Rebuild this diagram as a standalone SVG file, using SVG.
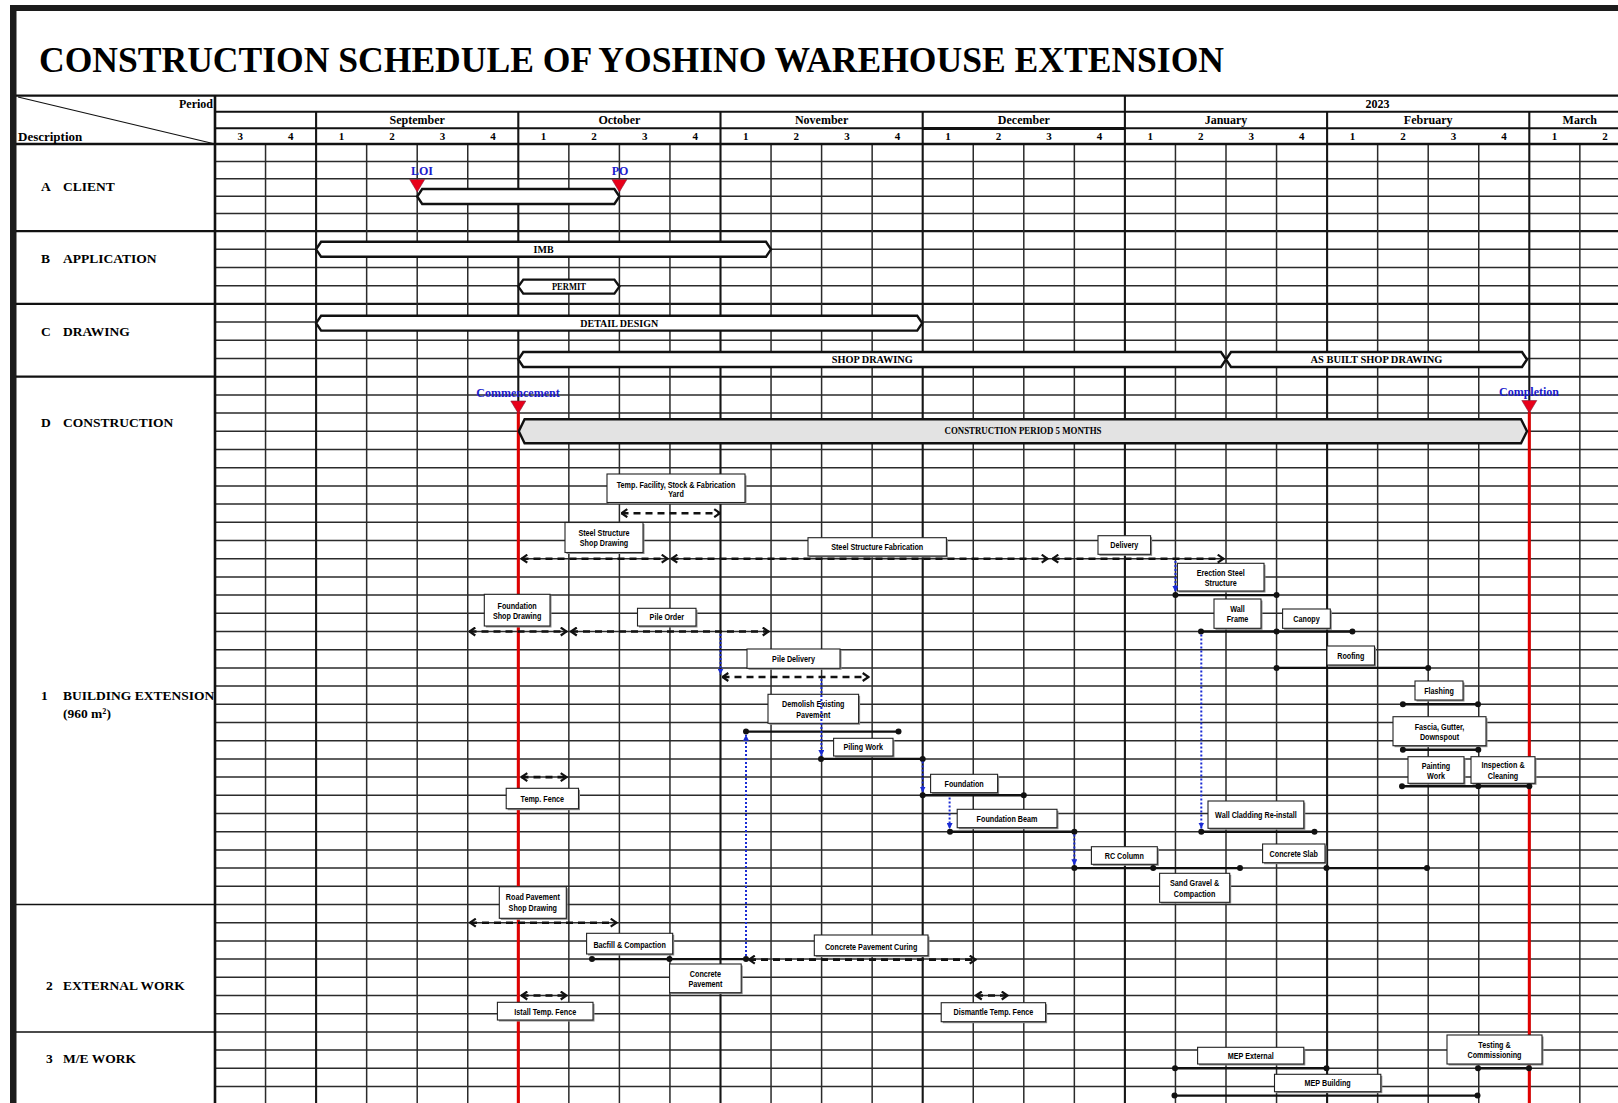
<svg xmlns="http://www.w3.org/2000/svg" width="1618" height="1103" viewBox="0 0 1618 1103">
<style>
.grid{stroke:#2b2b2b;stroke-width:1.5;fill:none}
.gridm{stroke:#161616;stroke-width:2.1;fill:none}
.frm{stroke:#111;fill:none}
.hdr{font-family:"Liberation Serif","Times New Roman",serif;font-weight:bold;fill:#000}
.c{text-anchor:middle}
.mo{font-size:12px}
.wk{font-size:11px}
.sec{font-size:13.5px}
.bar{fill:#fff;stroke:#111;stroke-width:2.4}
.barg{fill:#e3e3e3;stroke:#111;stroke-width:2.4}
.bt{font-family:"Liberation Serif","Times New Roman",serif;font-weight:bold;font-size:10px;text-anchor:middle;fill:#000}
.sh{fill:#8c8c8c}
.box{fill:#fff;stroke:#222;stroke-width:1.1}
.lb{font-family:"Liberation Sans",Arial,sans-serif;font-weight:bold;font-size:8.8px;text-anchor:middle;fill:#000}
.dash{stroke:#111;stroke-width:2.6;stroke-dasharray:7 5;fill:none;marker-start:url(#chev);marker-end:url(#chev)}
.sol{stroke:#111;stroke-width:2.4;fill:none}
.dot{fill:#111}
.blu{stroke:#1a2bd4;stroke-width:2;stroke-dasharray:2 2;fill:none;marker-end:url(#barr)}
.red{stroke:#e00000;stroke-width:3}
.mk{fill:#e8001a;stroke:#802040;stroke-width:0.6}
.bluet{font-family:"Liberation Serif","Times New Roman",serif;font-weight:bold;font-size:12px;fill:#1a1acc;text-anchor:middle}
</style>
<defs>
<marker id="chev" markerUnits="userSpaceOnUse" viewBox="0 0 8 10" refX="7" refY="5" markerWidth="8" markerHeight="10" orient="auto-start-reverse">
<path d="M1.2,1 L7,5 L1.2,9" fill="none" stroke="#111" stroke-width="2.2"/>
</marker>
<marker id="barr" markerUnits="userSpaceOnUse" viewBox="0 0 6 6" refX="6" refY="3" markerWidth="6" markerHeight="6" orient="auto">
<path d="M0,0 L6,3 L0,6 Z" fill="#1a2bd4"/>
</marker>
</defs>
<rect width="1618" height="1103" fill="#fff"/>

<!-- frame -->
<rect x="10" y="5" width="1608" height="6" fill="#1c1c1c"/>
<rect x="10" y="5" width="6.5" height="1098" fill="#1c1c1c"/>

<text class="hdr" x="39" y="72" font-size="35.5" textLength="1185" lengthAdjust="spacingAndGlyphs">CONSTRUCTION SCHEDULE OF YOSHINO WAREHOUSE EXTENSION</text>

<!-- grid -->
<g id="grid">
<path class="grid" d="M215 161.4H1618M215 178.8H1618M215 196.2H1618M215 213.6H1618M215 249.3H1618M215 267.5H1618M215 285.7H1618M215 322.1H1618M215 340.3H1618M215 358.5H1618M215 394.9H1618M215 413.1H1618M215 431.3H1618M215 449.5H1618M215 467.7H1618M215 485.9H1618M215 504.1H1618M215 522.3H1618M215 540.5H1618M215 558.7H1618M215 576.9H1618M215 595.1H1618M215 613.3H1618M215 631.5H1618M215 649.7H1618M215 667.9H1618M215 686.1H1618M215 704.3H1618M215 722.5H1618M215 740.7H1618M215 758.9H1618M215 777.1H1618M215 795.3H1618M215 813.5H1618M215 831.7H1618M215 849.9H1618M215 868.1H1618M215 886.3H1618M215 904.5H1618M215 922.7H1618M215 940.9H1618M215 959.1H1618M215 977.3H1618M215 995.5H1618M215 1013.7H1618M215 1031.9H1618M215 1050.1H1618M215 1068.3H1618M215 1086.5H1618"/>
<path class="gridm" d="M215 231.1H1618M215 303.9H1618M215 376.7H1618"/>
<path class="grid" d="M265.55 144V1103M366.65 144V1103M417.2 144V1103M467.75 144V1103M568.85 144V1103M619.4 144V1103M669.95 144V1103M771.05 144V1103M821.6 144V1103M872.15 144V1103M973.25 144V1103M1023.8 144V1103M1074.35 144V1103M1175.45 144V1103M1226 144V1103M1276.55 144V1103M1377.65 144V1103M1428.2 144V1103M1478.75 144V1103M1579.85 144V1103"/>
<path class="gridm" d="M316.1 111.7V1103M518.3 111.7V1103M720.5 111.7V1103M922.7 111.7V1103M1124.9 95.7V1103M1327.1 111.7V1103M1529.3 111.7V1103"/>
</g>

<!-- header -->
<g id="header">
<path class="frm" stroke-width="2.2" d="M16 95.7H1618"/>
<path class="frm" stroke-width="2" d="M215 111.7H1618M215 128.3H1618"/>
<path class="frm" stroke-width="3" d="M922.7 128.6H1124.9"/>
<path class="frm" stroke-width="2.6" d="M16 144H1618"/>
<path class="frm" stroke-width="2.6" d="M215 95.7V1103"/>
<path class="frm" stroke-width="1.2" d="M18 97L213 143.5"/>
<path class="frm" stroke-width="2.2" d="M16 231.1H215M16 303.9H215M16 376.7H215"/>
<path class="frm" stroke-width="1.5" d="M16 904.5H215M16 1031.9H215"/>
<text class="hdr" x="213" y="108.3" font-size="12" text-anchor="end">Period</text>
<text class="hdr" x="18" y="140.5" font-size="13">Description</text>
<text class="hdr c mo" x="1377.6" y="107.6">2023</text>
<text class="hdr c mo" x="417.2" y="124.3">September</text>
<text class="hdr c mo" x="619.4" y="124.3">October</text>
<text class="hdr c mo" x="821.6" y="124.3">November</text>
<text class="hdr c mo" x="1023.8" y="124.3">December</text>
<text class="hdr c mo" x="1226" y="124.3">January</text>
<text class="hdr c mo" x="1428.2" y="124.3">February</text>
<text class="hdr c mo" x="1579.8" y="124.3">March</text>
<g class="hdr c wk">
<text x="240.3" y="140.3">3</text><text x="290.8" y="140.3">4</text>
<text x="341.4" y="140.3">1</text><text x="391.9" y="140.3">2</text><text x="442.5" y="140.3">3</text><text x="493" y="140.3">4</text>
<text x="543.6" y="140.3">1</text><text x="594.1" y="140.3">2</text><text x="644.7" y="140.3">3</text><text x="695.2" y="140.3">4</text>
<text x="745.8" y="140.3">1</text><text x="796.3" y="140.3">2</text><text x="846.9" y="140.3">3</text><text x="897.4" y="140.3">4</text>
<text x="948" y="140.3">1</text><text x="998.5" y="140.3">2</text><text x="1049.1" y="140.3">3</text><text x="1099.6" y="140.3">4</text>
<text x="1150.2" y="140.3">1</text><text x="1200.7" y="140.3">2</text><text x="1251.3" y="140.3">3</text><text x="1301.8" y="140.3">4</text>
<text x="1352.4" y="140.3">1</text><text x="1402.9" y="140.3">2</text><text x="1453.5" y="140.3">3</text><text x="1504" y="140.3">4</text>
<text x="1554.6" y="140.3">1</text><text x="1605.1" y="140.3">2</text>
</g>
</g>

<!-- section labels -->
<g id="sections" class="hdr sec">
<text x="41" y="190.5">A</text><text x="63" y="190.5">CLIENT</text>
<text x="41" y="262.8">B</text><text x="63" y="262.8">APPLICATION</text>
<text x="41" y="335.8">C</text><text x="63" y="335.8">DRAWING</text>
<text x="41" y="426.7">D</text><text x="63" y="426.7">CONSTRUCTION</text>
<text x="41" y="700">1</text><text x="63" y="700">BUILDING EXTENSION</text>
<text x="63" y="717.5">(960 m²)</text>
<text x="46" y="990.3">2</text><text x="63" y="990.3">EXTERNAL WORK</text>
<text x="46" y="1063">3</text><text x="63" y="1063">M/E WORK</text>
</g>

<!-- milestone lines -->
<g id="milestone-lines">
<path class="red" d="M518.3 412V1103M1529.3 412V1103"/>
</g>

<!-- bars -->
<g id="bar-client"><polygon class="bar" points="422.2,189 614.4,189 619.4,196.5 614.4,204 422.2,204 417.2,196.5"/></g>
<g id="bar-imb"><polygon class="bar" points="321.1,241.8 766,241.8 771,249.3 766,256.8 321.1,256.8 316.1,249.3"/><text class="bt" x="543.6" y="252.8">IMB</text></g>
<g id="bar-permit"><polygon class="bar" points="523.3,279.6 614.4,279.6 619.4,286.6 614.4,293.6 523.3,293.6 518.3,286.6"/><text class="bt" x="568.9" y="289.6" font-size="8.5" textLength="34" lengthAdjust="spacingAndGlyphs">PERMIT</text></g>
<g id="bar-detail"><polygon class="bar" points="321.1,315.8 917.2,315.8 922.2,323.2 917.2,330.6 321.1,330.6 316.1,323.2"/><text class="bt" x="619.2" y="326.8">DETAIL DESIGN</text></g>
<g id="bar-shop"><polygon class="bar" points="523.3,352 1221,352 1226,359.5 1221,367 523.3,367 518.3,359.5"/><text class="bt" x="872.2" y="363" textLength="81" lengthAdjust="spacingAndGlyphs">SHOP DRAWING</text></g>
<g id="bar-asbuilt"><polygon class="bar" points="1231,352 1522,352 1527,359.5 1522,367 1231,367 1226,359.5"/><text class="bt" x="1376.5" y="363" textLength="132" lengthAdjust="spacingAndGlyphs">AS BUILT SHOP DRAWING</text></g>
<g id="bar-construction"><polygon class="barg" points="524.6,419.2 1521,419.2 1527,431.2 1521,443.3 524.6,443.3 518.8,431.2"/><text class="bt" x="1023" y="434.4" font-size="9.5" textLength="157" lengthAdjust="spacingAndGlyphs">CONSTRUCTION PERIOD 5 MONTHS</text></g>

<!-- milestones -->
<g id="ms-loi"><polygon class="mk" points="409.7,179.5 424.7,179.5 417.2,192"/><text class="bluet" x="422" y="175">LOI</text></g>
<g id="ms-po"><polygon class="mk" points="611.9,179.5 626.9,179.5 619.4,192"/><text class="bluet" x="620" y="175">PO</text></g>
<g id="ms-commencement"><polygon class="mk" points="510.8,401 525.8,401 518.3,413.5"/><text class="bluet" x="518" y="396.6">Commencement</text></g>
<g id="ms-completion"><polygon class="mk" points="1521.8,400.5 1536.8,400.5 1529.3,413"/><text class="bluet" x="1529" y="395.6">Completion</text></g>

<!-- task label boxes -->
<g id="t-tempfacility"><rect class="sh" x="608.5" y="475.5" width="138" height="28.5"/><rect class="box" x="607" y="474" width="138" height="28.5"/><g class="lb" transform="translate(676 0) scale(0.82 1)"><text y="487.6">Temp. Facility, Stock &amp; Fabrication</text><text y="497.2">Yard</text></g></g>
<g id="t-steelshop"><rect class="sh" x="566.5" y="524" width="78" height="30"/><rect class="box" x="565" y="522.5" width="78" height="30"/><g class="lb" transform="translate(604 0) scale(0.82 1)"><text y="535.8">Steel Structure</text><text y="545.8">Shop Drawing</text></g></g>
<g id="t-steelfab"><rect class="sh" x="809.5" y="539.2" width="138.4" height="18.3"/><rect class="box" x="808" y="537.7" width="138.4" height="18.3"/><g class="lb" transform="translate(877.2 0) scale(0.82 1)"><text y="549.8">Steel Structure Fabrication</text></g></g>
<g id="t-delivery"><rect class="sh" x="1099.5" y="537.2" width="52.6" height="18.6"/><rect class="box" x="1098" y="535.7" width="52.6" height="18.6"/><g class="lb" transform="translate(1124.3 0) scale(0.82 1)"><text y="548">Delivery</text></g></g>
<g id="t-erection"><rect class="sh" x="1178.9" y="564.8" width="86.6" height="27.7"/><rect class="box" x="1177.4" y="563.3" width="86.6" height="27.7"/><g class="lb" transform="translate(1220.7 0) scale(0.82 1)"><text y="575.9">Erection Steel</text><text y="586.4">Structure</text></g></g>
<g id="t-foundshop"><rect class="sh" x="485.8" y="595.8" width="65.7" height="31.7"/><rect class="box" x="484.3" y="594.3" width="65.7" height="31.7"/><g class="lb" transform="translate(517.1 0) scale(0.82 1)"><text y="609">Foundation</text><text y="619.3">Shop Drawing</text></g></g>
<g id="t-pileorder"><rect class="sh" x="639" y="609.8" width="58.5" height="17.7"/><rect class="box" x="637.5" y="608.3" width="58.5" height="17.7"/><g class="lb" transform="translate(666.8 0) scale(0.82 1)"><text y="620.5">Pile Order</text></g></g>
<g id="t-wallframe"><rect class="sh" x="1215.5" y="600.5" width="47" height="29.3"/><rect class="box" x="1214" y="599" width="47" height="29.3"/><g class="lb" transform="translate(1237.5 0) scale(0.82 1)"><text y="612.3">Wall</text><text y="622.3">Frame</text></g></g>
<g id="t-canopy"><rect class="sh" x="1284.1" y="610.5" width="47.7" height="19.3"/><rect class="box" x="1282.6" y="609" width="47.7" height="19.3"/><g class="lb" transform="translate(1306.5 0) scale(0.82 1)"><text y="621.8">Canopy</text></g></g>
<g id="t-roofing"><rect class="sh" x="1328.5" y="647.5" width="47.5" height="19"/><rect class="box" x="1327" y="646" width="47.5" height="19"/><g class="lb" transform="translate(1350.8 0) scale(0.82 1)"><text y="658.7">Roofing</text></g></g>
<g id="t-piledelivery"><rect class="sh" x="748.5" y="650.5" width="93" height="19.3"/><rect class="box" x="747" y="649" width="93" height="19.3"/><g class="lb" transform="translate(793.5 0) scale(0.82 1)"><text y="661.8">Pile Delivery</text></g></g>
<g id="t-flashing"><rect class="sh" x="1416.5" y="682.5" width="48" height="19"/><rect class="box" x="1415" y="681" width="48" height="19"/><g class="lb" transform="translate(1439 0) scale(0.82 1)"><text y="693.7">Flashing</text></g></g>
<g id="t-demolish"><rect class="sh" x="769.5" y="695.8" width="90.6" height="29"/><rect class="box" x="768" y="694.3" width="90.6" height="29"/><g class="lb" transform="translate(813.3 0) scale(0.82 1)"><text y="707.3">Demolish Existing</text><text y="718">Pavement</text></g></g>
<g id="t-fascia"><rect class="sh" x="1394.5" y="718.2" width="93" height="29"/><rect class="box" x="1393" y="716.7" width="93" height="29"/><g class="lb" transform="translate(1439.5 0) scale(0.82 1)"><text y="729.8">Fascia, Gutter,</text><text y="739.8">Downspout</text></g></g>
<g id="t-piling"><rect class="sh" x="835.1" y="739.8" width="59.4" height="17.7"/><rect class="box" x="833.6" y="738.3" width="59.4" height="17.7"/><g class="lb" transform="translate(863.3 0) scale(0.82 1)"><text y="750.5">Piling Work</text></g></g>
<g id="t-painting"><rect class="sh" x="1409.5" y="758.2" width="56" height="26.6"/><rect class="box" x="1408" y="756.7" width="56" height="26.6"/><g class="lb" transform="translate(1436 0) scale(0.82 1)"><text y="769">Painting</text><text y="779">Work</text></g></g>
<g id="t-inspection"><rect class="sh" x="1472.5" y="758.2" width="64" height="26.6"/><rect class="box" x="1471" y="756.7" width="64" height="26.6"/><g class="lb" transform="translate(1503 0) scale(0.82 1)"><text y="768.3">Inspection &amp;</text><text y="779">Cleaning</text></g></g>
<g id="t-foundation"><rect class="sh" x="932.1" y="775.8" width="67" height="18.4"/><rect class="box" x="930.6" y="774.3" width="67" height="18.4"/><g class="lb" transform="translate(964.1 0) scale(0.82 1)"><text y="786.8">Foundation</text></g></g>
<g id="t-tempfence"><rect class="sh" x="507.7" y="789.8" width="72.3" height="20.4"/><rect class="box" x="506.2" y="788.3" width="72.3" height="20.4"/><g class="lb" transform="translate(542.3 0) scale(0.82 1)"><text y="801.7">Temp. Fence</text></g></g>
<g id="t-wallcladding"><rect class="sh" x="1209.5" y="802.5" width="95.8" height="27.3"/><rect class="box" x="1208" y="801" width="95.8" height="27.3"/><g class="lb" transform="translate(1256 0) scale(0.82 1)"><text y="817.6">Wall Cladding Re-install</text></g></g>
<g id="t-foundbeam"><rect class="sh" x="958.7" y="810.8" width="99.8" height="18.4"/><rect class="box" x="957.2" y="809.3" width="99.8" height="18.4"/><g class="lb" transform="translate(1007 0) scale(0.82 1)"><text y="821.8">Foundation Beam</text></g></g>
<g id="t-rccolumn"><rect class="sh" x="1092.9" y="848.2" width="65.9" height="17.6"/><rect class="box" x="1091.4" y="846.7" width="65.9" height="17.6"/><g class="lb" transform="translate(1124.3 0) scale(0.82 1)"><text y="858.8">RC Column</text></g></g>
<g id="t-concslab"><rect class="sh" x="1264.1" y="845.5" width="62.4" height="18.7"/><rect class="box" x="1262.6" y="844" width="62.4" height="18.7"/><g class="lb" transform="translate(1293.8 0) scale(0.82 1)"><text y="856.6">Concrete Slab</text></g></g>
<g id="t-sandgravel"><rect class="sh" x="1161.1" y="874.8" width="70.1" height="29"/><rect class="box" x="1159.6" y="873.3" width="70.1" height="29"/><g class="lb" transform="translate(1194.6 0) scale(0.82 1)"><text y="886.4">Sand Gravel &amp;</text><text y="897.4">Compaction</text></g></g>
<g id="t-roadshop"><rect class="sh" x="500.8" y="888.2" width="67" height="31.6"/><rect class="box" x="499.3" y="886.7" width="67" height="31.6"/><g class="lb" transform="translate(532.8 0) scale(0.82 1)"><text y="900.4">Road Pavement</text><text y="911.4">Shop Drawing</text></g></g>
<g id="t-backfill"><rect class="sh" x="588.1" y="934.8" width="86.1" height="20.7"/><rect class="box" x="586.6" y="933.3" width="86.1" height="20.7"/><g class="lb" transform="translate(629.6 0) scale(0.82 1)"><text y="948">Bacfill &amp; Compaction</text></g></g>
<g id="t-curing"><rect class="sh" x="815.8" y="936.5" width="113.7" height="20.7"/><rect class="box" x="814.3" y="935" width="113.7" height="20.7"/><g class="lb" transform="translate(871.1 0) scale(0.82 1)"><text y="949.6">Concrete Pavement Curing</text></g></g>
<g id="t-concpave"><rect class="sh" x="671.1" y="965.5" width="71.6" height="28.7"/><rect class="box" x="669.6" y="964" width="71.6" height="28.7"/><g class="lb" transform="translate(705.4 0) scale(0.82 1)"><text y="976.6">Concrete</text><text y="987.3">Pavement</text></g></g>
<g id="t-istall"><rect class="sh" x="498.9" y="1003.8" width="95.6" height="17.7"/><rect class="box" x="497.4" y="1002.3" width="95.6" height="17.7"/><g class="lb" transform="translate(545.2 0) scale(0.82 1)"><text y="1014.6">Istall Temp. Fence</text></g></g>
<g id="t-dismantle"><rect class="sh" x="942.7" y="1004.2" width="104.4" height="19"/><rect class="box" x="941.2" y="1002.7" width="104.4" height="19"/><g class="lb" transform="translate(993.4 0) scale(0.82 1)"><text y="1015.4">Dismantle Temp. Fence</text></g></g>
<g id="t-mepext"><rect class="sh" x="1199.1" y="1048.8" width="106.2" height="16.7"/><rect class="box" x="1197.6" y="1047.3" width="106.2" height="16.7"/><g class="lb" transform="translate(1250.7 0) scale(0.82 1)"><text y="1058.8">MEP External</text></g></g>
<g id="t-mepbld"><rect class="sh" x="1276" y="1075.8" width="106.3" height="17.4"/><rect class="box" x="1274.5" y="1074.3" width="106.3" height="17.4"/><g class="lb" transform="translate(1327.6 0) scale(0.82 1)"><text y="1086.2">MEP Building</text></g></g>
<g id="t-testing"><rect class="sh" x="1448.5" y="1036.5" width="95" height="29"/><rect class="box" x="1447" y="1035" width="95" height="29"/><g class="lb" transform="translate(1494.5 0) scale(0.82 1)"><text y="1048">Testing &amp;</text><text y="1058.3">Commissioning</text></g></g>

<!-- connectors -->
<g id="connectors">
<g id="solid-lines">
<path class="sol" d="M1175.45 595.1H1276.55M1201 631.5H1352.4M1276.55 667.9H1428.2M1402.9 704.3H1478M1402.9 749.8H1478.3M1402 786.2H1529.3M746 731.6H898.5M821 758.9H922.7M922.7 795.3H1023.8M950 831.7H1074.35M1201.3 831.7H1314.5M1074.35 868.1H1240M1326.5 868.1H1427M592 959.1H746M1175 1068.3H1326.5M1174.5 1095.6H1477.5M1478 1068.3H1529"/>
<g class="dot">
<circle cx="1175.45" cy="595.1" r="3"/><circle cx="1276.55" cy="595.1" r="3"/>
<circle cx="1201" cy="631.5" r="3"/><circle cx="1276.55" cy="631.5" r="3"/><circle cx="1352.4" cy="631.5" r="3"/>
<circle cx="1276.55" cy="667.9" r="3"/><circle cx="1428.2" cy="667.9" r="3"/>
<circle cx="1402.9" cy="704.3" r="3"/><circle cx="1478" cy="704.3" r="3"/>
<circle cx="1402.9" cy="749.8" r="3"/><circle cx="1478.3" cy="749.8" r="3"/>
<circle cx="1402" cy="786.2" r="3"/><circle cx="1478.3" cy="786.2" r="3"/><circle cx="1529.3" cy="786.2" r="3"/>
<circle cx="746" cy="731.6" r="3"/><circle cx="898.5" cy="731.6" r="3"/>
<circle cx="821" cy="758.9" r="3"/><circle cx="922.7" cy="758.9" r="3"/>
<circle cx="922.7" cy="795.3" r="3"/><circle cx="1023.8" cy="795.3" r="3"/>
<circle cx="950" cy="831.7" r="3"/><circle cx="1074.35" cy="831.7" r="3"/>
<circle cx="1201.3" cy="831.7" r="3"/><circle cx="1314.5" cy="831.7" r="3"/>
<circle cx="1074.35" cy="868.1" r="3"/><circle cx="1153.2" cy="868.1" r="3"/><circle cx="1240" cy="868.1" r="3"/>
<circle cx="1326.5" cy="868.1" r="3"/><circle cx="1427" cy="868.1" r="3"/>
<circle cx="592" cy="959.1" r="3"/><circle cx="669.5" cy="959.1" r="3"/><circle cx="746" cy="959.1" r="3"/>
<circle cx="1175" cy="1068.3" r="3"/><circle cx="1326.5" cy="1068.3" r="3"/>
<circle cx="1174.5" cy="1095.6" r="3"/><circle cx="1477.5" cy="1095.6" r="3"/>
<circle cx="1478" cy="1068.3" r="3"/><circle cx="1529" cy="1068.3" r="3"/>
</g>
</g>
<g id="dashed-arrows">
<line class="dash" x1="621.5" y1="513.2" x2="720" y2="513.2"/>
<line class="dash" x1="521.5" y1="558.7" x2="667.5" y2="558.7"/>
<line class="dash" x1="671.5" y1="558.7" x2="1047.5" y2="558.7"/>
<line class="dash" x1="1052.5" y1="558.7" x2="1223.5" y2="558.7"/>
<line class="dash" x1="469.5" y1="631.5" x2="566.5" y2="631.5"/>
<line class="dash" x1="571" y1="631.5" x2="768.5" y2="631.5"/>
<line class="dash" x1="722.5" y1="677" x2="868.5" y2="677"/>
<line class="dash" x1="521.5" y1="777.1" x2="566.5" y2="777.1"/>
<line class="dash" x1="470" y1="922.7" x2="616.5" y2="922.7"/>
<line class="dash" x1="749" y1="959.6" x2="975.5" y2="959.6"/>
<line class="dash" x1="521.5" y1="995.5" x2="566.5" y2="995.5"/>
<line class="dash" x1="976" y1="995.5" x2="1007.5" y2="995.5"/>
</g>
<g id="dependency-arrows">
<line class="blu" x1="1175.45" y1="561" x2="1175.45" y2="592"/>
<line class="blu" x1="1201.3" y1="634.5" x2="1201.3" y2="828.5"/>
<line class="blu" x1="720.5" y1="634" x2="720.5" y2="674.5"/>
<line class="blu" x1="821.4" y1="679" x2="821.4" y2="756"/>
<line class="blu" x1="922.7" y1="761.5" x2="922.7" y2="792.5"/>
<line class="blu" x1="949.6" y1="797.5" x2="949.6" y2="829"/>
<line class="blu" x1="1074.35" y1="834.5" x2="1074.35" y2="865.3"/>
<line class="blu" x1="746" y1="956" x2="746" y2="734.8"/>
</g>
</g>
</svg>
